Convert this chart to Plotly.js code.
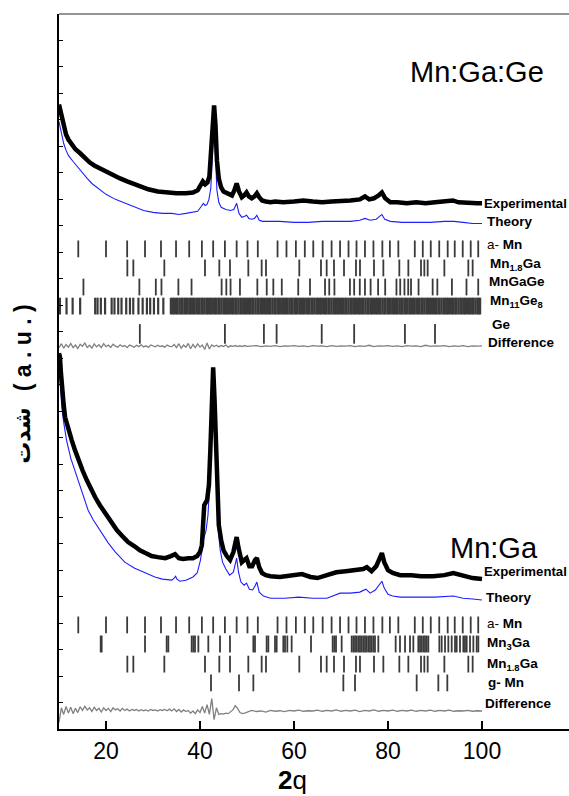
<!DOCTYPE html>
<html>
<head>
<meta charset="utf-8">
<script src="https://cdn.plot.ly/plotly-3.0.1.min.js"></script>
<style>html,body{margin:0;padding:0;background:#fff;}#chart{width:569px;height:796px;}</style>
</head>
<body>
<div id="chart"></div>
<script>
// ---------- DATA (2θ in degrees, intensity in arbitrary units; 1 unit = one y tick) ----------
// Mn:Ga:Ge (upper pattern)
const topExpAngle = [10, 10.3, 10.6, 11, 11.5, 12, 12.7, 13.5, 14.5, 15.5, 16.5, 17.5, 18.7, 20, 21.5, 23, 24.5, 26, 27.5, 29, 31, 33, 35, 37, 38.5, 39.5, 40.2, 40.6, 41.1, 41.6, 42, 42.4, 42.7, 43.0, 43.3, 43.6, 44, 44.5, 45, 46, 46.8, 47.3, 47.8, 48.3, 48.9, 49.4, 49.9, 50.4, 51, 51.6, 52.1, 52.6, 53.2, 54, 55, 56, 57.7, 60, 62, 64, 66, 68, 70, 72, 74, 75.1, 76, 77, 78, 78.7, 79.4, 80.5, 82, 84, 86, 88, 90, 92, 93.8, 95, 97, 99, 100];
const topExp = [23.58, 23.36, 22.98, 22.68, 22.45, 22.26, 22.08, 21.89, 21.74, 21.55, 21.40, 21.28, 21.17, 21.02, 20.91, 20.79, 20.68, 20.57, 20.45, 20.38, 20.30, 20.26, 20.23, 20.23, 20.26, 20.34, 20.60, 20.68, 20.57, 20.64, 20.87, 21.85, 22.98, 23.55, 22.79, 21.47, 20.79, 20.45, 20.30, 20.19, 20.15, 20.34, 20.60, 20.30, 20.08, 20.15, 20.26, 20.11, 20.04, 20.11, 20.23, 20.08, 19.96, 19.92, 19.89, 19.92, 19.89, 19.92, 19.96, 19.92, 19.89, 19.92, 19.92, 19.96, 20.00, 20.11, 20.00, 20.04, 20.15, 20.26, 20.04, 19.89, 19.89, 19.85, 19.89, 19.85, 19.89, 19.92, 19.96, 19.89, 19.85, 19.85, 19.85];
const topThAngle = [10, 10.3, 10.6, 11, 11.5, 12, 13, 14, 15, 16, 17, 18.5, 20, 22, 24, 26, 28, 30, 32, 34, 35.5, 37, 38.5, 39.5, 40.3, 40.7, 41.1, 41.5, 41.9, 42.3, 42.6, 42.85, 43.05, 43.3, 43.6, 44, 44.5, 45.5, 46.5, 47.2, 47.8, 48.3, 48.9, 49.5, 49.9, 50.4, 51, 51.6, 52.1, 52.6, 53.3, 55, 57, 60, 63, 66, 69, 72, 74, 75.1, 76.2, 77.5, 78.2, 78.7, 79.3, 80.5, 83, 86, 89, 92, 94, 96, 98, 100];
const topTh = [22.94, 22.68, 22.38, 22.11, 21.85, 21.66, 21.43, 21.21, 20.98, 20.79, 20.60, 20.38, 20.19, 20.00, 19.85, 19.70, 19.58, 19.51, 19.47, 19.47, 19.43, 19.47, 19.51, 19.55, 19.74, 19.85, 19.77, 19.81, 20.00, 20.42, 21.47, 22.60, 22.68, 21.47, 20.34, 19.89, 19.70, 19.62, 19.58, 19.62, 19.85, 19.47, 19.32, 19.36, 19.40, 19.28, 19.25, 19.28, 19.40, 19.21, 19.17, 19.17, 19.17, 19.13, 19.13, 19.17, 19.17, 19.17, 19.21, 19.28, 19.21, 19.25, 19.36, 19.43, 19.25, 19.17, 19.13, 19.13, 19.13, 19.17, 19.17, 19.13, 19.09, 19.09];

// Mn:Ga (lower pattern)
const botExpAngle = [10, 10.2, 10.4, 10.6, 11, 11.3, 12, 12.7, 13.4, 14.1, 15, 15.9, 16.8, 17.7, 18.7, 19.8, 21, 22.3, 23.5, 24.7, 26, 27.2, 28.5, 29.7, 31, 32.6, 33.8, 34.7, 35.5, 36.4, 37.5, 38.5, 39.4, 40, 40.4, 40.9, 41.5, 41.9, 42.2, 42.5, 42.8, 43.1, 43.4, 43.7, 44, 44.5, 45, 45.7, 46.4, 47.1, 47.5, 47.8, 48.2, 48.9, 49.4, 49.9, 50.5, 51.1, 51.7, 52.1, 52.6, 53.2, 54, 55, 57, 59, 61.7, 63.5, 65, 67, 69, 71, 73, 74.7, 75.5, 76.5, 77.5, 78.2, 78.7, 79.2, 80, 81, 82.6, 85, 87, 89.6, 92, 93.9, 96, 98, 100];
const botExp = [14.19, 14.04, 13.47, 12.79, 12.23, 11.77, 11.28, 10.91, 10.53, 10.15, 9.77, 9.40, 9.06, 8.75, 8.45, 8.15, 7.81, 7.51, 7.28, 7.06, 6.91, 6.75, 6.64, 6.53, 6.49, 6.45, 6.53, 6.60, 6.45, 6.42, 6.45, 6.45, 6.53, 6.68, 6.94, 8.45, 8.64, 9.21, 10.53, 12.42, 13.66, 12.42, 10.34, 8.64, 7.70, 7.13, 6.75, 6.53, 6.38, 6.68, 7.13, 7.25, 6.83, 6.30, 6.38, 6.45, 6.15, 6.15, 6.38, 6.45, 6.11, 5.89, 5.81, 5.77, 5.74, 5.77, 5.85, 5.74, 5.70, 5.81, 5.92, 5.96, 6.00, 6.04, 6.11, 5.96, 6.15, 6.45, 6.64, 6.30, 6.00, 5.89, 5.81, 5.81, 5.77, 5.77, 5.81, 5.89, 5.77, 5.70, 5.66];
const botThAngle = [10, 10.3, 10.6, 11, 11.6, 12.5, 13.4, 14.5, 15.5, 16.2, 17.3, 18.4, 19.5, 20.5, 22, 24, 26, 28.3, 30.4, 32, 34, 34.5, 34.8, 35.1, 35.7, 37, 38.5, 39.4, 40.1, 40.7, 41.3, 41.7, 42.1, 42.5, 42.8, 43.1, 43.5, 43.9, 44.3, 44.8, 45.5, 46.3, 47.1, 47.5, 47.8, 48.2, 48.7, 49.4, 49.9, 50.5, 51.2, 51.7, 52.1, 52.6, 53.5, 55, 58, 61, 64, 67, 69.8, 72, 74, 75.3, 76.2, 77.3, 78.2, 78.7, 79.2, 80, 81, 82.6, 86, 90, 93.9, 96, 98, 100];
const botTh = [13.81, 12.98, 12.15, 11.58, 10.91, 10.23, 9.77, 9.21, 8.64, 8.26, 7.89, 7.58, 7.28, 7.02, 6.68, 6.30, 6.08, 5.89, 5.74, 5.66, 5.62, 5.70, 5.77, 5.66, 5.58, 5.62, 5.74, 5.89, 6.38, 7.13, 7.51, 8.08, 9.40, 11.66, 13.06, 12.04, 9.40, 7.51, 6.75, 6.30, 6.04, 5.81, 5.92, 6.19, 6.45, 5.92, 5.55, 5.43, 5.51, 5.28, 5.25, 5.40, 5.55, 5.17, 5.02, 4.94, 4.94, 4.98, 4.94, 4.94, 5.13, 5.13, 5.17, 5.28, 5.13, 5.25, 5.47, 5.58, 5.32, 5.09, 5.02, 4.98, 4.98, 4.98, 5.02, 4.94, 4.91, 4.87];

// Difference curves (shared angle grid)
const diffAngle = [10, 10.5, 11, 11.5, 12, 12.5, 13, 13.5, 14, 14.5, 15, 15.5, 16, 16.5, 17, 17.5, 18, 18.5, 19, 19.5, 20, 20.5, 21, 21.5, 22, 22.5, 23, 23.5, 24, 24.5, 25, 25.5, 26, 26.5, 27, 27.5, 28, 28.5, 29, 29.5, 30, 30.5, 31, 31.5, 32, 32.5, 33, 33.5, 34, 34.5, 35, 35.5, 36, 36.5, 37, 37.5, 38, 38.5, 39, 39.5, 40, 40.5, 41, 41.5, 42, 42.5, 43, 43.5, 44, 44.5, 45, 45.5, 46, 46.5, 47, 47.5, 48, 48.5, 49, 49.5, 50, 51, 52, 53, 54, 55, 56, 57, 58, 59, 60, 61, 62, 63, 64, 65, 66, 67, 68, 69, 70, 71, 72, 73, 74, 75, 76, 77, 78, 79, 80, 81, 82, 83, 84, 85, 86, 87, 88, 89, 90, 91, 92, 93, 94, 95, 96, 97, 98, 99, 100];
const topDiff = [14.40, 14.55, 14.38, 14.52, 14.42, 14.56, 14.40, 14.50, 14.37, 14.53, 14.45, 14.58, 14.41, 14.49, 14.38, 14.54, 14.43, 14.51, 14.40, 14.55, 14.44, 14.50, 14.41, 14.53, 14.46, 14.42, 14.51, 14.44, 14.48, 14.40, 14.50, 14.45, 14.42, 14.49, 14.44, 14.51, 14.43, 14.47, 14.41, 14.50, 14.46, 14.43, 14.49, 14.44, 14.47, 14.42, 14.50, 14.45, 14.44, 14.52, 14.40, 14.55, 14.38, 14.50, 14.42, 14.56, 14.36, 14.52, 14.40, 14.54, 14.42, 14.50, 14.33, 14.58, 14.35, 14.50, 14.44, 14.49, 14.43, 14.48, 14.44, 14.50, 14.42, 14.47, 14.45, 14.48, 14.44, 14.47, 14.44, 14.48, 14.45, 14.46, 14.48, 14.44, 14.47, 14.45, 14.48, 14.44, 14.47, 14.46, 14.48, 14.45, 14.47, 14.44, 14.48, 14.46, 14.47, 14.44, 14.48, 14.45, 14.47, 14.46, 14.48, 14.44, 14.47, 14.45, 14.49, 14.44, 14.47, 14.46, 14.48, 14.45, 14.47, 14.44, 14.48, 14.46, 14.47, 14.44, 14.49, 14.45, 14.47, 14.46, 14.48, 14.44, 14.47, 14.45, 14.48, 14.44, 14.47, 14.46, 14.47];
const botDiff = [0.25, 0.80, 0.55, 0.85, 0.60, 0.82, 0.58, 0.78, 0.62, 0.84, 0.70, 0.86, 0.72, 0.80, 0.66, 0.82, 0.70, 0.78, 0.64, 0.80, 0.70, 0.78, 0.66, 0.80, 0.72, 0.76, 0.68, 0.78, 0.70, 0.75, 0.68, 0.74, 0.70, 0.74, 0.68, 0.73, 0.69, 0.72, 0.68, 0.74, 0.70, 0.72, 0.68, 0.73, 0.70, 0.74, 0.69, 0.75, 0.68, 0.76, 0.66, 0.74, 0.64, 0.72, 0.66, 0.70, 0.60, 0.68, 0.58, 0.72, 0.62, 0.85, 0.60, 0.92, 0.55, 1.15, 0.35, 0.80, 0.55, 0.58, 0.56, 0.60, 0.58, 0.66, 0.72, 0.88, 0.78, 0.62, 0.58, 0.60, 0.64, 0.70, 0.66, 0.68, 0.64, 0.70, 0.67, 0.69, 0.66, 0.70, 0.68, 0.71, 0.67, 0.69, 0.68, 0.71, 0.67, 0.70, 0.68, 0.72, 0.67, 0.70, 0.68, 0.71, 0.66, 0.70, 0.68, 0.72, 0.67, 0.70, 0.68, 0.71, 0.67, 0.70, 0.68, 0.71, 0.67, 0.70, 0.68, 0.71, 0.67, 0.70, 0.68, 0.71, 0.67, 0.69, 0.68, 0.70, 0.67, 0.69, 0.68];

// Reflection positions (2θ) of each phase
const alphaMn = [14.1, 20.0, 24.5, 28.3, 31.7, 34.9, 37.7, 40.4, 42.8, 45.3, 47.8, 50.1, 52.3, 56.5, 58.4, 60.4, 62.3, 64.1, 66.1, 68.0, 69.8, 71.6, 73.3, 75.1, 76.9, 78.8, 80.4, 82.2, 85.7, 87.4, 89.1, 90.9, 92.7, 94.2, 95.9, 97.6, 99.2];
const mn18Ga = [24.54, 25.82, 32.41, 41.06, 44.11, 46.38, 50.28, 53.12, 54.04, 61.13, 65.74, 66.95, 68.51, 70.64, 73.19, 74.04, 77.02, 79.01, 82.41, 84.33, 87.02, 87.73, 88.44, 91.99, 97.09, 98.01];
const mnGaGe = [15.2, 27.1, 30.6, 31.8, 35.4, 38.2, 44.6, 45.6, 46.5, 48.5, 52.2, 54.2, 55.6, 57.4, 60.9, 63.4, 66.6, 67.5, 68.6, 71.9, 72.8, 74.0, 75.1, 76.3, 77.9, 79.4, 81.8, 82.6, 83.5, 84.3, 84.9, 86.5, 89.5, 90.5, 93.6, 96.7, 99.2];
const mn11Ge8 = [10.2, 11.6, 12.9, 14.5, 17.7, 18.2, 18.9, 19.8, 21.2, 21.8, 22.6, 23.3, 24.3, 25.1, 25.8, 26.9, 27.8, 28.7, 29.4, 30.2, 31.1, 32.2, 33.8, 34.2, 34.5, 34.9, 35.2, 35.6, 36.0, 36.3, 36.7, 37.0, 37.4, 37.8, 38.1, 38.5, 38.8, 39.2, 39.6, 39.9, 40.3, 40.6, 41.0, 41.4, 41.7, 42.1, 42.4, 42.8, 43.2, 43.5, 43.9, 44.2, 44.6, 45.0, 45.3, 45.7, 46.0, 46.4, 46.8, 47.1, 47.5, 47.8, 48.2, 48.6, 48.9, 49.3, 49.6, 50.0, 50.4, 50.7, 51.1, 51.4, 51.8, 52.2, 52.5, 52.9, 53.2, 53.6, 54.0, 54.3, 54.7, 55.0, 55.4, 55.8, 56.1, 56.5, 56.8, 57.2, 57.6, 57.9, 58.3, 58.6, 59.0, 59.4, 59.7, 60.1, 60.4, 60.8, 61.2, 61.5, 61.9, 62.2, 62.6, 63.0, 63.3, 63.7, 64.0, 64.4, 64.8, 65.1, 65.5, 65.8, 66.2, 66.6, 66.9, 67.3, 67.6, 68.0, 68.4, 68.7, 69.1, 69.4, 69.8, 70.2, 70.5, 70.9, 71.2, 71.6, 72.0, 72.3, 72.7, 73.0, 73.4, 73.8, 74.1, 74.5, 74.8, 75.2, 75.6, 75.9, 76.3, 76.6, 77.0, 77.4, 77.7, 78.1, 78.4, 78.8, 79.2, 79.5, 79.9, 80.2, 80.6, 81.0, 81.3, 81.7, 82.0, 82.4, 82.8, 83.1, 83.5, 83.8, 84.2, 84.6, 84.9, 85.3, 85.6, 86.0, 86.4, 86.7, 87.1, 87.4, 87.8, 88.2, 88.5, 88.9, 89.2, 89.6, 90.0, 90.3, 90.7, 91.0, 91.4, 91.8, 92.1, 92.5, 92.8, 93.2, 93.6, 93.9, 94.3, 94.6, 95.0, 95.4, 95.7, 96.1, 96.4, 96.8, 97.2, 97.5, 97.9, 98.2, 98.6, 99.0, 99.3, 99.6];
const ge = [27.2, 45.3, 53.6, 56.3, 65.9, 72.8, 83.6, 90.0];
const mn3Ga = [18.87, 19.08, 28.30, 32.91, 33.26, 38.23, 38.58, 38.94, 39.65, 41.77, 44.26, 46.38, 51.35, 51.70, 54.18, 54.54, 55.96, 56.31, 57.73, 58.09, 58.58, 59.50, 63.62, 68.23, 68.58, 68.94, 70.14, 72.27, 72.62, 72.98, 73.33, 73.69, 74.04, 74.40, 74.75, 75.11, 75.46, 75.82, 76.17, 76.52, 76.88, 77.23, 77.94, 81.63, 82.55, 83.62, 84.68, 85.39, 86.45, 86.81, 87.16, 87.52, 87.87, 88.23, 88.58, 90.92, 91.42, 92.13, 92.84, 93.55, 94.26, 94.61, 95.32, 96.03, 96.38, 96.74, 97.45, 98.16, 98.87, 99.22];
const gammaMn = [42.34, 48.30, 51.35, 70.50, 72.98, 86.10, 90.71, 92.62];

const xTickVals = [20, 40, 60, 80, 100];
const xTickText = ['20', '40', '60', '80', '100'];

// ---------- BUILD ----------
const FONT = 'Liberation Sans, Arial, Helvetica, sans-serif';
const TICKC = '#3a3a3a';

function curve(x, y, color, width) {
  return {x: x, y: y, type: 'scatter', mode: 'lines', line: {color: color, width: width}, hoverinfo: 'skip', showlegend: false, cliponaxis: true};
}
function tickRow(x, level, size, w) {
  return {x: x, y: x.map(() => level), type: 'scatter', mode: 'markers',
    marker: {symbol: 'line-ns', size: size, color: TICKC, line: {color: TICKC, width: w || 1.8}},
    hoverinfo: 'skip', showlegend: false};
}

const traces = [
  curve(topThAngle, topTh, 'rgb(30,30,255)', 1.1),
  curve(topExpAngle, topExp, '#000', 4.5),
  tickRow(alphaMn, 18.13, 12),
  tickRow(mn18Ga, 17.41, 12),
  tickRow(mnGaGe, 16.69, 12),
  tickRow(mn11Ge8, 15.97, 12, 2.2),
  tickRow(ge, 14.92, 14),
  curve(diffAngle, topDiff, '#808080', 1.3),
  curve(botThAngle, botTh, 'rgb(30,30,255)', 1.1),
  curve(botExpAngle, botExp, '#000', 4.5),
  tickRow(alphaMn, 3.93, 12),
  tickRow(mn3Ga, 3.21, 12),
  tickRow(mn18Ga, 2.45, 12),
  tickRow(gammaMn, 1.74, 12),
  curve(diffAngle, botDiff, '#808080', 1.3)
];

function lab(text, x, y, size) {
  return {text: text, x: x, y: y, xref: 'x', yref: 'y', xanchor: 'left', yanchor: 'middle',
    showarrow: false, font: {family: FONT, size: size || 13.5, color: '#000'}};
}

const annotations = [
  lab('<b>Experimental</b>', 99.9, 19.86, 13.2),
  lab('<b>Theory</b>', 100.7, 19.15),
  lab('a- <b>Mn</b>', 100.7, 18.28),
  lab('<b>Mn<sub>1.8</sub>Ga</b>', 101.3, 17.55),
  lab('<b>MnGaGe</b>', 101.1, 16.88),
  lab('<b>Mn<sub>11</sub>Ge<sub>8</sub></b>', 101.3, 16.15),
  lab('<b>Ge</b>', 101.7, 15.26),
  lab('<b>Difference</b>', 100.9, 14.61),
  lab('<b>Experimental</b>', 99.9, 5.93, 13.2),
  lab('<b>Theory</b>', 100.5, 4.98),
  lab('a- <b>Mn</b>', 100.7, 3.97),
  lab('<b>Mn<sub>3</sub>Ga</b>', 100.7, 3.24),
  lab('<b>Mn<sub>1.8</sub>Ga</b>', 100.7, 2.44),
  lab('<b>g- Mn</b>', 100.9, 1.74),
  lab('<b>Difference</b>', 100.3, 0.98),
  {text: 'Mn:Ga:Ge', x: 98.83, y: 24.81, xref: 'x', yref: 'y', xanchor: 'center', yanchor: 'middle', showarrow: false,
   font: {family: FONT, size: 29, color: '#000'}},
  {text: 'Mn:Ga', x: 102.55, y: 6.84, xref: 'x', yref: 'y', xanchor: 'center', yanchor: 'middle', showarrow: false,
   font: {family: FONT, size: 29, color: '#000'}},
  {text: '<b>2</b>q', x: 59.6, y: -0.072, xref: 'x', yref: 'paper', xanchor: 'center', yanchor: 'middle', showarrow: false,
   font: {family: FONT, size: 26, color: '#000'}},
  {text: '<b>( a . u . )</b>', x: -0.0706, y: 0.534, xref: 'paper', yref: 'paper', xanchor: 'center', yanchor: 'middle',
   textangle: -90, showarrow: false, font: {family: FONT, size: 23, color: '#000'}},
  {text: '<b>شدت</b>', x: -0.0706, y: 0.41, xref: 'paper', yref: 'paper', xanchor: 'center', yanchor: 'middle',
   textangle: -90, showarrow: false, font: {family: 'DejaVu Sans, sans-serif', size: 22, color: '#000'}}
];

const layout = {
  width: 569, height: 796,
  margin: {l: 59, r: 0, t: 14, b: 67, pad: 0},
  paper_bgcolor: '#fff', plot_bgcolor: '#fff',
  showlegend: false,
  font: {family: FONT, color: '#000'},
  xaxis: {
    range: [10, 118.51], showgrid: false, zeroline: false,
    showline: true, linecolor: '#000', linewidth: 2,
    ticks: 'inside', ticklen: 8, tickwidth: 1.5, tickcolor: '#000',
    tickmode: 'array', tickvals: xTickVals, ticktext: xTickText,
    tickfont: {family: FONT, size: 23, color: '#000'}
  },
  yaxis: {
    range: [0, 27], showgrid: false, zeroline: false,
    showline: true, linecolor: '#000', linewidth: 2,
    ticks: 'inside', ticklen: 4, tickwidth: 1, tickcolor: '#000',
    tickmode: 'linear', tick0: 0, dtick: 1, showticklabels: false
  },
  shapes: [
    {type: 'line', xref: 'paper', yref: 'paper', x0: 0, x1: 1, y0: 1, y1: 1, line: {color: '#707070', width: 1.5}}
  ],
  annotations: annotations
};

Plotly.newPlot('chart', traces, layout, {displayModeBar: false, staticPlot: true});
</script>
</body>
</html>
